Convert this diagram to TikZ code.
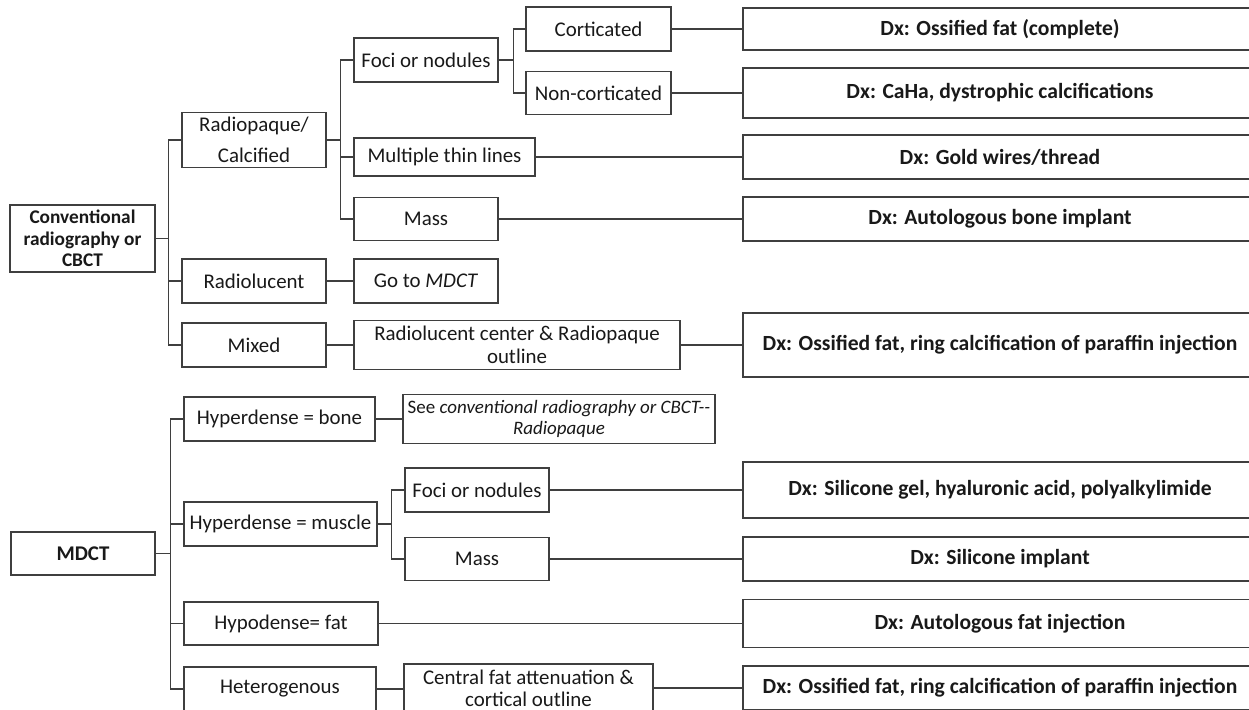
\documentclass[tikz,border=0pt]{standalone}
\usepackage{fontspec}
\setmainfont{Carlito}
\definecolor{linegray}{HTML}{3F3F3F}
\tikzset{
  box/.style={draw=linegray, line width=0.7pt, align=center, inner sep=1pt,
    text=black!90, font=\fontsize{11.9}{13}\selectfont},
  dxbox/.style={box, minimum width=10.28cm, font=\fontsize{12.3}{13.5}\selectfont\bfseries},
  link/.style={draw=linegray, line width=0.7pt}
}
\begin{document}
\begin{tikzpicture}[x=0.02cm, y=-0.02cm]

    % Frame
    \path[use as bounding box, fill=white] (0, 0) rectangle (1249, 710);

    % Conventional radiography or CBCT (top)
    \begin{scope}
        % Root
        \node[box, minimum width=2.9cm, minimum height=1.34cm,
            font=\fontsize{11}{12.2}\selectfont\bfseries] (conv) at (82.5, 238.5)
            {Conventional\\radiography or\\CBCT};

        % First level
        \node[box, minimum width=2.88cm, minimum height=1.1cm] (radop) at (254, 140)
            {Radiopaque/\\[5pt]Calcified};
        \node[box, minimum width=2.88cm, minimum height=0.88cm] (radluc) at (254, 281) {Radiolucent};
        \node[box, minimum width=2.88cm, minimum height=0.88cm] (mixed) at (254, 345) {Mixed};

        % Second level
        \node[box, minimum width=2.88cm, minimum height=0.88cm] (foci) at (426, 60) {Foci or nodules};
        \node[box, minimum width=3.62cm, minimum height=0.76cm] (lines) at (444.5, 157) {Multiple thin lines};
        \node[box, minimum width=2.88cm, minimum height=0.86cm] (mass) at (426, 219) {Mass};
        \node[box, minimum width=2.88cm, minimum height=0.88cm] (gomdct) at (426, 281) {Go to \textit{MDCT}};
        \node[box, minimum width=6.52cm, minimum height=0.98cm] (rcenter) at (517, 345)
            {Radiolucent center \& Radiopaque\\outline};

        % Third level
        \node[box, minimum width=2.9cm, minimum height=0.88cm] (cort) at (598.5, 29) {Corticated};
        \node[box, minimum width=2.9cm, minimum height=0.86cm] (noncort) at (598.5, 93) {Non-corticated};

        % Diagnoses
        \node[dxbox, minimum height=0.84cm] (dxcort) at (1000, 29) {Dx: Ossified fat (complete)};
        \node[dxbox, minimum height=1.0cm] (dxnoncort) at (1000, 93) {Dx: CaHa, dystrophic calcifications};
        \node[dxbox, minimum height=0.88cm] (dxlines) at (1000, 157) {Dx: Gold wires/thread};
        \node[dxbox, minimum height=0.88cm] (dxmass) at (1000, 219) {Dx: Autologous bone implant};
        \node[dxbox, minimum height=1.28cm] (dxmixed) at (1000, 345)
            {Dx: Ossified fat, ring calcification of paraffin injection};

        % Brackets
        \foreach \c in {radop, radluc, mixed}
            \draw[link] (conv.east) -- ++(13, 0) |- (\c.west);
        \foreach \c in {foci, lines, mass}
            \draw[link] (radop.east) -- ++(14, 0) |- (\c.west);
        \foreach \c in {cort, noncort}
            \draw[link] (foci.east) -- ++(15, 0) |- (\c.west);

        % Straight links
        \draw[link] (cort.east) -- (dxcort.west);
        \draw[link] (noncort.east) -- (dxnoncort.west);
        \draw[link] (lines.east) -- (dxlines.west);
        \draw[link] (mass.east) -- (dxmass.west);
        \draw[link] (radluc.east) -- (gomdct.west);
        \draw[link] (mixed.east) -- (rcenter.west);
        \draw[link] (rcenter.east) -- (dxmixed.west);
    \end{scope}

    % MDCT (bottom)
    \begin{scope}
        % Root
        \node[box, minimum width=2.88cm, minimum height=0.86cm, font=\fontsize{11.9}{13}\selectfont\bfseries]
            (mdct) at (83, 553.5) {MDCT};

        % First level
        \node[box, minimum width=3.82cm, minimum height=0.88cm] (hbone) at (279.5, 419) {Hyperdense = bone};
        \node[box, minimum width=3.86cm, minimum height=0.88cm] (hmuscle) at (280.5, 524) {Hyperdense = muscle};
        \node[box, minimum width=3.88cm, minimum height=0.86cm] (hfat) at (281, 623.5) {Hypodense= fat};
        \node[box, minimum width=3.84cm, minimum height=0.88cm] (hetero) at (280, 689) {Heterogenous};

        % Second level
        \node[box, minimum width=6.24cm, minimum height=0.98cm, font=\fontsize{10.8}{12}\selectfont]
            (seeconv) at (559, 419)
            {See \textit{conventional radiography or CBCT{-}{-}}\\\textit{Radiopaque}};
        \node[box, minimum width=2.88cm, minimum height=0.88cm] (foci2) at (477, 490) {Foci or nodules};
        \node[box, minimum width=2.88cm, minimum height=0.86cm] (mass2) at (477, 559) {Mass};
        \node[box, minimum width=4.98cm, minimum height=0.96cm, font=\fontsize{11.9}{12.4}\selectfont]
            (central) at (528.5, 688)
            {Central fat attenuation \&\\cortical outline};

        % Diagnoses
        \node[dxbox, minimum height=1.12cm] (dxfoci) at (1000, 490)
            {Dx: Silicone gel, hyaluronic acid, polyalkylimide};
        \node[dxbox, minimum height=0.88cm] (dxmass2) at (1000, 559) {Dx: Silicone implant};
        \node[dxbox, minimum height=0.96cm] (dxfat) at (1000, 623.5) {Dx: Autologous fat injection};
        \node[dxbox, minimum height=0.88cm] (dxhetero) at (1000, 688)
            {Dx: Ossified fat, ring calcification of paraffin injection};

        % Brackets
        \foreach \c in {hbone, hmuscle, hfat, hetero}
            \draw[link] (mdct.east) -- ++(15, 0) |- (\c.west);
        \foreach \c in {foci2, mass2}
            \draw[link] (hmuscle.east) -- ++(14, 0) |- (\c.west);

        % Straight links
        \draw[link] (hbone.east) -- (seeconv.west);
        \draw[link] (foci2.east) -- (dxfoci.west);
        \draw[link] (mass2.east) -- (dxmass2.west);
        \draw[link] (hfat.east) -- (dxfat.west);
        \draw[link] (hetero.east) -- (hetero.east -| central.west);
        \draw[link] (central.east) -- (dxhetero.west);
    \end{scope}

\end{tikzpicture}
\end{document}
